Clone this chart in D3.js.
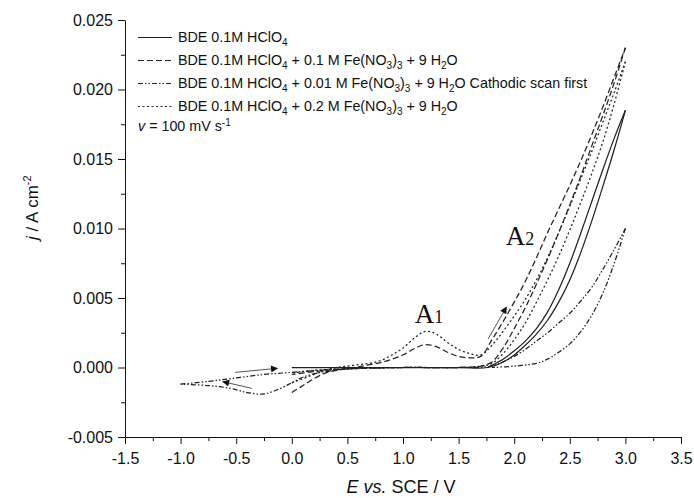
<!DOCTYPE html>
<html>
<head>
<meta charset="utf-8">
<script src="https://cdn.jsdelivr.net/npm/d3@7"></script>
<style>
  body { margin: 0; background: #fff; }
  text { font-family: "Liberation Sans", Arial, sans-serif; fill: #111; }
  .tick text { font-size: 16px; }
  .legend text { font-size: 14.3px; }
  .peak { font-family: "Liberation Serif", "Times New Roman", serif; }
</style>
</head>
<body>
<div id="plot"></div>
<script>
// current density j (A cm-2) vs potential E (V vs SCE)
var solidFwd = [[0,0],[0.5,0],[1.0,0],[1.5,0],[1.76,0],[1.9,0.0004],[2.0,0.0009],[2.1,0.0016],[2.2,0.0024],[2.3,0.0034],[2.4,0.0047],[2.5,0.0063],[2.6,0.0083],[2.7,0.0106],[2.8,0.0131],[2.9,0.0157],[3.0,0.0185]];
var solidRev = [[3.0,0.0185],[2.9,0.0165],[2.8,0.0143],[2.7,0.0120],[2.6,0.0097],[2.5,0.0075],[2.4,0.0056],[2.3,0.0040],[2.2,0.0028],[2.1,0.0019],[2.0,0.0012],[1.9,0.0006],[1.76,0]];

var dashedFwd = [[0,-0.0018],[0.1,-0.0013],[0.2,-0.0008],[0.3,-0.0004],[0.4,-0.0002],[0.5,-0.00005],[0.6,0.00005],[0.7,0.0002],[0.8,0.00035],[0.9,0.0006],[1.0,0.0009],[1.1,0.00135],[1.2,0.00165],[1.3,0.0015],[1.4,0.0011],[1.5,0.0008],[1.6,0.0007],[1.7,0.0008],[1.8,0.0020],[1.9,0.0033],[2.0,0.0047],[2.1,0.0062],[2.2,0.0079],[2.3,0.0097],[2.4,0.0114],[2.5,0.0131],[2.6,0.0149],[2.7,0.0168],[2.8,0.0188],[2.9,0.0209],[3.0,0.0230]];
var dashedRev = [[3.0,0.0230],[2.9,0.0205],[2.8,0.0182],[2.7,0.0160],[2.6,0.0138],[2.5,0.0117],[2.4,0.0097],[2.3,0.0078],[2.2,0.0060],[2.1,0.0043],[2.0,0.0028],[1.9,0.0014],[1.8,0.0004],[1.7,0.0001],[1.5,0],[1.0,0],[0.5,-0.0001],[0.2,-0.0003],[0,-0.0005]];

var dashDotCath = [[0.6,0],[0.4,-0.0002],[0.23,-0.0004],[0.1,-0.0007],[0,-0.0011],[-0.1,-0.0015],[-0.25,-0.0019],[-0.4,-0.0018],[-0.55,-0.0015],[-0.75,-0.0013],[-1.0,-0.0012]];
var dashDotAnod = [[-1.0,-0.0012],[-0.75,-0.0010],[-0.55,-0.0008],[-0.25,-0.0005],[0,-0.00035],[0.25,-0.0002],[0.5,-0.0001],[1.0,0],[1.5,0],[1.8,0.0001],[1.9,0.0004],[2.0,0.0008],[2.1,0.0013],[2.2,0.0019],[2.3,0.0025],[2.4,0.0032],[2.5,0.0039],[2.6,0.0048],[2.7,0.0058],[2.8,0.0071],[2.9,0.0085],[3.0,0.0100]];
var dashDotRev = [[3.0,0.0100],[2.9,0.0075],[2.8,0.0054],[2.7,0.0038],[2.6,0.0026],[2.5,0.0017],[2.4,0.0011],[2.3,0.0006],[2.2,0.0003],[2.0,0.0001],[1.8,0]];

var dottedFwd = [[0,-0.0011],[0.1,-0.0008],[0.2,-0.0005],[0.3,-0.0002],[0.4,0],[0.5,0.0001],[0.6,0.0002],[0.7,0.0003],[0.8,0.0005],[0.9,0.0009],[1.0,0.0014],[1.1,0.0021],[1.2,0.0026],[1.3,0.0024],[1.4,0.0018],[1.5,0.0013],[1.6,0.0010],[1.7,0.0009],[1.8,0.0016],[1.9,0.0026],[2.0,0.0037],[2.1,0.0049],[2.2,0.0063],[2.3,0.0079],[2.4,0.0097],[2.5,0.0116],[2.6,0.0136],[2.7,0.0156],[2.8,0.0177],[2.9,0.0198],[3.0,0.0220]];
var dottedRev = [[3.0,0.0220],[2.9,0.0190],[2.8,0.0163],[2.7,0.0140],[2.6,0.0119],[2.5,0.0099],[2.4,0.0080],[2.3,0.0063],[2.2,0.0047],[2.1,0.0032],[2.0,0.0020],[1.9,0.0010],[1.8,0.0003],[1.7,0.0001],[1.5,0],[1.0,0],[0.5,-0.0001],[0.2,-0.0002],[0,-0.0004]];

// scan direction arrows [E0, j0, E1, j1]
var arrows = [[1.765,0.00205,1.93,0.00435],[-0.51,-0.00035,-0.13,-0.00006],[-0.36,-0.0015,-0.62,-0.00102]];

var xTicks = [-1.5,-1.0,-0.5,0.0,0.5,1.0,1.5,2.0,2.5,3.0,3.5];
var yTicks = [-0.005,0.000,0.005,0.010,0.015,0.020,0.025];

// legend entries: [text, style] pieces
var legendRows = [
  [["BDE 0.1M HClO"],["4","sub"]],
  [["BDE 0.1M HClO"],["4","sub"],[" + 0.1 M Fe(NO"],["3","sub"],[")"],["3","sub"],[" + 9 H"],["2","sub"],["O"]],
  [["BDE 0.1M HClO"],["4","sub"],[" + 0.01 M Fe(NO"],["3","sub"],[")"],["3","sub"],[" + 9 H"],["2","sub"],["O Cathodic scan first"]],
  [["BDE 0.1M HClO"],["4","sub"],[" + 0.2 M Fe(NO"],["3","sub"],[")"],["3","sub"],[" + 9 H"],["2","sub"],["O"]]
];
var legendDash = ["none", "6,3", "5,2,1.5,2,1.5,2", "2,2.5"];

var margin = { left: 125, right: 13, top: 20, bottom: 61 };
var w = 694 - margin.left - margin.right;
var h = 498 - margin.top - margin.bottom;

var x = d3.scaleLinear().domain([-1.5, 3.5]).range([0, w]);
var y = d3.scaleLinear().domain([-0.005, 0.025]).range([h, 0]);

var svg = d3.select("#plot")
  .append("svg")
  .attr("width", 694)
  .attr("height", 498)
  .append("g")
  .attr("transform", "translate(" + margin.left + "," + margin.top + ")");

var fmt = function(f) {
  return function(d) { return d3.format(f)(d).replace("\u2212", "-"); };
};

// minor ticks
svg.append("g")
  .attr("transform", "translate(0," + h + ")")
  .call(d3.axisBottom(x).tickValues(d3.range(-1.25, 3.5, 0.5)).tickSize(4).tickFormat(""))
  .call(function(g) { g.select(".domain").remove(); });
svg.append("g")
  .call(d3.axisLeft(y).tickValues(d3.range(-0.0025, 0.025, 0.005)).tickSize(4).tickFormat(""))
  .call(function(g) { g.select(".domain").remove(); });

// major axes
svg.append("g")
  .attr("transform", "translate(0," + h + ")")
  .call(d3.axisBottom(x).tickValues(xTicks).tickSize(7).tickSizeOuter(0).tickPadding(9).tickFormat(fmt(".1f")));
svg.append("g")
  .call(d3.axisLeft(y).tickValues(yTicks).tickSize(7).tickSizeOuter(0).tickPadding(5).tickFormat(fmt(".3f")));

svg.selectAll(".tick text").attr("fill", "#111");
svg.selectAll(".domain, .tick line").attr("stroke", "#111");

// axis labels
var xl = svg.append("text")
  .attr("x", w / 2 - 2)
  .attr("y", h + 56)
  .style("text-anchor", "middle")
  .style("font-size", "18px");
xl.append("tspan").style("font-style", "italic").text("E");
xl.append("tspan").text(" ");
xl.append("tspan").style("font-style", "italic").text("vs.");
xl.append("tspan").text(" SCE / V");

var yl = svg.append("text")
  .attr("transform", "translate(" + (-87) + "," + (y(0.0115)) + ") rotate(-90)")
  .style("text-anchor", "middle")
  .style("font-size", "17px");
yl.append("tspan").style("font-style", "italic").text("j");
yl.append("tspan").text(" / A cm");
yl.append("tspan").attr("dy", -7).style("font-size", "11px").text("-2");

// curves
var line = d3.line()
  .x(function(d) { return x(d[0]); })
  .y(function(d) { return y(d[1]); })
  .curve(d3.curveCatmullRom.alpha(0.5));

var curves = [
  [solidFwd, 0], [solidRev, 0],
  [dashedFwd, 1], [dashedRev, 1],
  [dashDotCath, 2], [dashDotAnod, 2], [dashDotRev, 2],
  [dottedFwd, 3], [dottedRev, 3]
];

svg.selectAll(".cv")
  .data(curves)
  .enter().append("path")
  .attr("class", "cv")
  .attr("d", function(d) { return line(d[0]); })
  .attr("fill", "none")
  .attr("stroke", "#222")
  .attr("stroke-width", 1.25)
  .attr("stroke-dasharray", function(d) { return legendDash[d[1]]; });

// arrows
svg.append("defs").append("marker")
  .attr("id", "head")
  .attr("viewBox", "0 0 10 10")
  .attr("refX", 9)
  .attr("refY", 5)
  .attr("markerWidth", 12)
  .attr("markerHeight", 7)
  .attr("markerUnits", "userSpaceOnUse")
  .attr("orient", "auto")
  .append("path")
  .attr("d", "M0,0L10,5L0,10z")
  .attr("fill", "#111");

svg.selectAll(".arrow")
  .data(arrows)
  .enter().append("line")
  .attr("class", "arrow")
  .attr("x1", function(d) { return x(d[0]); })
  .attr("y1", function(d) { return y(d[1]); })
  .attr("x2", function(d) { return x(d[2]); })
  .attr("y2", function(d) { return y(d[3]); })
  .attr("stroke", "#555")
  .attr("stroke-width", 1)
  .attr("marker-end", "url(#head)");

// peak labels
var peaks = [["A", "1", 1.105, 0.0032], ["A", "2", 1.925, 0.0088]];
peaks.forEach(function(p) {
  var t = svg.append("text")
    .attr("class", "peak")
    .attr("x", x(p[2]))
    .attr("y", y(p[3]));
  t.append("tspan").style("font-size", "27px").text(p[0]);
  t.append("tspan").style("font-size", "18px").text(p[1]);
});

// legend
var legend = svg.append("g").attr("class", "legend");
legendRows.forEach(function(row, i) {
  var yy = 22 + i * 23;
  legend.append("line")
    .attr("x1", 13).attr("x2", 47)
    .attr("y1", yy - 4.5).attr("y2", yy - 4.5)
    .attr("stroke", "#222")
    .attr("stroke-width", 1.1)
    .attr("stroke-dasharray", legendDash[i]);
  var t = legend.append("text").attr("x", 53).attr("y", yy);
  row.forEach(function(seg) {
    if (seg[1] == "sub") {
      t.append("tspan").attr("dy", 4).style("font-size", "10px").text(seg[0]);
    } else {
      var s = t.append("tspan").text(seg[0]);
      if (t.selectAll("tspan").size() > 1) s.attr("dy", -4);
    }
  });
});

var vt = legend.append("text").attr("x", 13).attr("y", 111);
vt.append("tspan").style("font-style", "italic").text("v");
vt.append("tspan").text(" = 100 mV s");
vt.append("tspan").attr("dy", -5).style("font-size", "10px").text("-1");
</script>
</body>
</html>
